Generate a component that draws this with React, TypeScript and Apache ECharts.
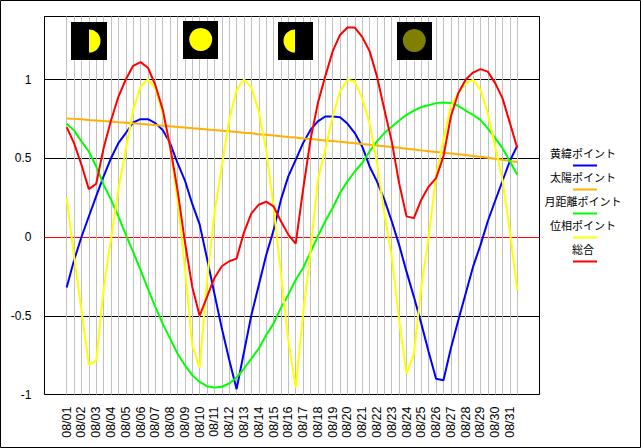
import React, { useEffect, useRef } from "react";
import * as echarts from "echarts";

const days = ["08/01","08/02","08/03","08/04","08/05","08/06","08/07","08/08","08/09","08/10","08/11","08/12","08/13","08/14","08/15","08/16","08/17","08/18","08/19","08/20","08/21","08/22","08/23","08/24","08/25","08/26","08/27","08/28","08/29","08/30","08/31"];
const eclipticLat = [-0.32,-0.148,0,0.13,0.26,0.385,0.5,0.596,0.66,0.727,0.748,0.748,0.723,0.68,0.596,0.47,0.36,0.21,0.08,-0.137,-0.36,-0.58,-0.78,-0.966,-0.73,-0.497,-0.306,-0.116,0.042,0.237,0.385,0.49,0.596,0.68,0.734,0.765,0.765,0.761,0.72,0.66,0.575,0.448,0.353,0.237,0.1,-0.05,-0.22,-0.38,-0.55,-0.73,-0.9,-0.91,-0.708,-0.53,-0.36,-0.19,-0.053,0.1,0.23,0.357,0.484,0.58];
const sun = [0.752,0.75,0.747,0.743,0.74,0.736,0.733,0.729,0.726,0.722,0.718,0.715,0.711,0.707,0.703,0.699,0.695,0.691,0.687,0.683,0.679,0.675,0.671,0.667,0.662,0.658,0.653,0.649,0.644,0.64,0.635,0.631,0.626,0.622,0.618,0.613,0.609,0.604,0.6,0.595,0.59,0.586,0.581,0.576,0.571,0.566,0.561,0.556,0.55,0.545,0.54,0.535,0.53,0.525,0.52,0.514,0.509,0.503,0.497,0.49,0.483,0.476];
const moonDistance = [0.719,0.677,0.607,0.543,0.448,0.332,0.237,0.131,0.015,-0.095,-0.21,-0.33,-0.444,-0.55,-0.645,-0.74,-0.814,-0.877,-0.92,-0.947,-0.956,-0.951,-0.93,-0.892,-0.835,-0.772,-0.708,-0.624,-0.55,-0.45,-0.366,-0.271,-0.197,-0.097,0.004,0.1,0.184,0.279,0.353,0.416,0.47,0.543,0.607,0.66,0.7,0.74,0.776,0.803,0.825,0.837,0.85,0.854,0.85,0.833,0.803,0.776,0.744,0.69,0.628,0.564,0.48,0.395];
const phase = [0.247,-0.12,-0.465,-0.81,-0.786,-0.33,-0.013,0.3,0.554,0.807,0.955,1,0.945,0.787,0.575,0.237,-0.19,-0.687,-0.83,-0.275,0.15,0.448,0.744,0.934,1,0.95,0.797,0.554,0.195,-0.233,-0.655,-0.956,-0.486,-0.095,0.364,0.554,0.765,0.924,0.998,0.987,0.88,0.723,0.47,0.152,-0.127,-0.53,-0.867,-0.744,-0.317,0,0.385,0.617,0.829,0.913,0.977,0.998,0.934,0.787,0.575,0.36,0.03,-0.338];
const total = [0.698,0.596,0.459,0.304,0.338,0.564,0.74,0.89,1,1.087,1.11,1.075,0.965,0.81,0.575,0.3,-0.03,-0.317,-0.5,-0.38,-0.26,-0.186,-0.154,-0.137,0.03,0.15,0.205,0.224,0.195,0.1,0.015,-0.042,0.3,0.617,0.85,1.02,1.178,1.283,1.33,1.33,1.27,1.18,1.02,0.81,0.607,0.342,0.131,0.12,0.237,0.32,0.374,0.512,0.765,0.913,0.998,1.044,1.066,1.05,0.977,0.88,0.723,0.564];

const seriesNames = ["黄緯ポイント","太陽ポイント","月距離ポイント","位相ポイント","総合"];
const seriesColors = ["#0000ff","#ffb000","#00ff00","#ffff00","#ff0000"];
const seriesValues = [eclipticLat, sun, moonDistance, phase, total];

const PAD = 3;
const categories = [
  ...Array(PAD).fill(""),
  ...days.flatMap((d) => [d, d + " 12"]),
  ...Array(PAD).fill(""),
];
const pad = (v: number[]) => [...Array(PAD).fill(null), ...v, ...Array(PAD).fill(null)];

const icon = (x: number, y: number, w: number, h: number, cx: number, cy: number, color: string, kind: string) => {
  const r = 11.5;
  const moon =
    kind === "full"
      ? { type: "circle", shape: { cx, cy, r }, style: { fill: color } }
      : {
          type: "sector",
          shape: {
            cx, cy, r, r0: 0,
            startAngle: kind === "right" ? -Math.PI / 2 : Math.PI / 2,
            endAngle: kind === "right" ? Math.PI / 2 : (3 * Math.PI) / 2,
          },
          style: { fill: color },
        };
  return [{ type: "rect", shape: { x, y, width: w, height: h }, style: { fill: "#000" }, z: 10 }, { ...moon, z: 11 }];
};

export default function App() {
  const ref = useRef<HTMLDivElement>(null);
  useEffect(() => {
    const chart = echarts.init(ref.current!, undefined, { renderer: "svg" });
    const legendGraphics = seriesNames.flatMap((name, i) => [
      {
        type: "text", x: 583, y: 152.5 + i * 24,
        style: { text: name, fill: "#000", font: '11px "Noto Sans CJK JP"', textAlign: "center", textVerticalAlign: "middle" },
      },
      {
        type: "line", shape: { x1: 573, y1: 165.5 + i * 24, x2: 597, y2: 165.5 + i * 24 },
        style: { stroke: seriesColors[i], lineWidth: 2 },
      },
    ]);
    chart.setOption({
      animation: false,
      backgroundColor: "#fff",
      grid: { left: 44.5, top: 16.5, width: 495, height: 378, show: true, borderColor: "#000", borderWidth: 1, backgroundColor: "transparent" },
      xAxis: {
        type: "category",
        data: categories,
        boundaryGap: false,
        axisLine: { show: false, onZero: false },
        axisTick: { show: false },
        splitLine: {
          show: true,
          interval: (i: number) => i >= PAD && i < categories.length - PAD,
          lineStyle: { color: "#c0c0c0", width: 1 },
        },
        axisLabel: {
          rotate: 90,
          margin: 12,
          padding: [4, 0, 0, 0],
          interval: (i: number) => i >= PAD && i < categories.length - PAD && (i - PAD) % 2 === 0,
          color: "#000",
          fontFamily: "Liberation Sans",
          fontSize: 12.5,
          hideOverlap: false,
        },
      },
      yAxis: {
        type: "value",
        min: -1,
        max: 1.4,
        interval: 0.5,
        axisLine: { show: false },
        axisTick: { show: false },
        splitLine: { show: true, lineStyle: { color: ["#000", "#000", "#ff0000", "#000", "#000", "#000"], width: 1 } },
        axisLabel: {
          margin: 13,
          color: "#000",
          fontFamily: "Liberation Sans",
          fontSize: 12,
          showMaxLabel: false,
          formatter: (v: number) => (v > 1 ? "" : String(v)),
        },
      },
      series: seriesNames.map((name, i) => ({
        name,
        type: "line",
        data: pad(seriesValues[i]),
        showSymbol: false,
        symbol: "none",
        connectNulls: false,
        lineStyle: { color: seriesColors[i], width: 2 },
        z: 3 + i,
      })),
      graphic: [
        { type: "rect", shape: { x: 0.5, y: 0.5, width: 640, height: 447 }, style: { fill: "transparent", stroke: "#000", lineWidth: 1 } },
        ...icon(71, 22, 36, 38, 89, 41, "#ffff00", "right"),
        ...icon(183, 21, 35, 38, 200.7, 39.5, "#ffff00", "full"),
        ...icon(278, 22, 35, 38, 295, 41, "#ffff00", "left"),
        ...icon(397, 22, 35, 38, 414.3, 40.5, "#808000", "full"),
        ...legendGraphics,
      ],
    });
    return () => chart.dispose();
  }, []);
  return <div ref={ref} style={{ position: "absolute", left: 0, top: 0, width: 641, height: 448 }} />;
}
